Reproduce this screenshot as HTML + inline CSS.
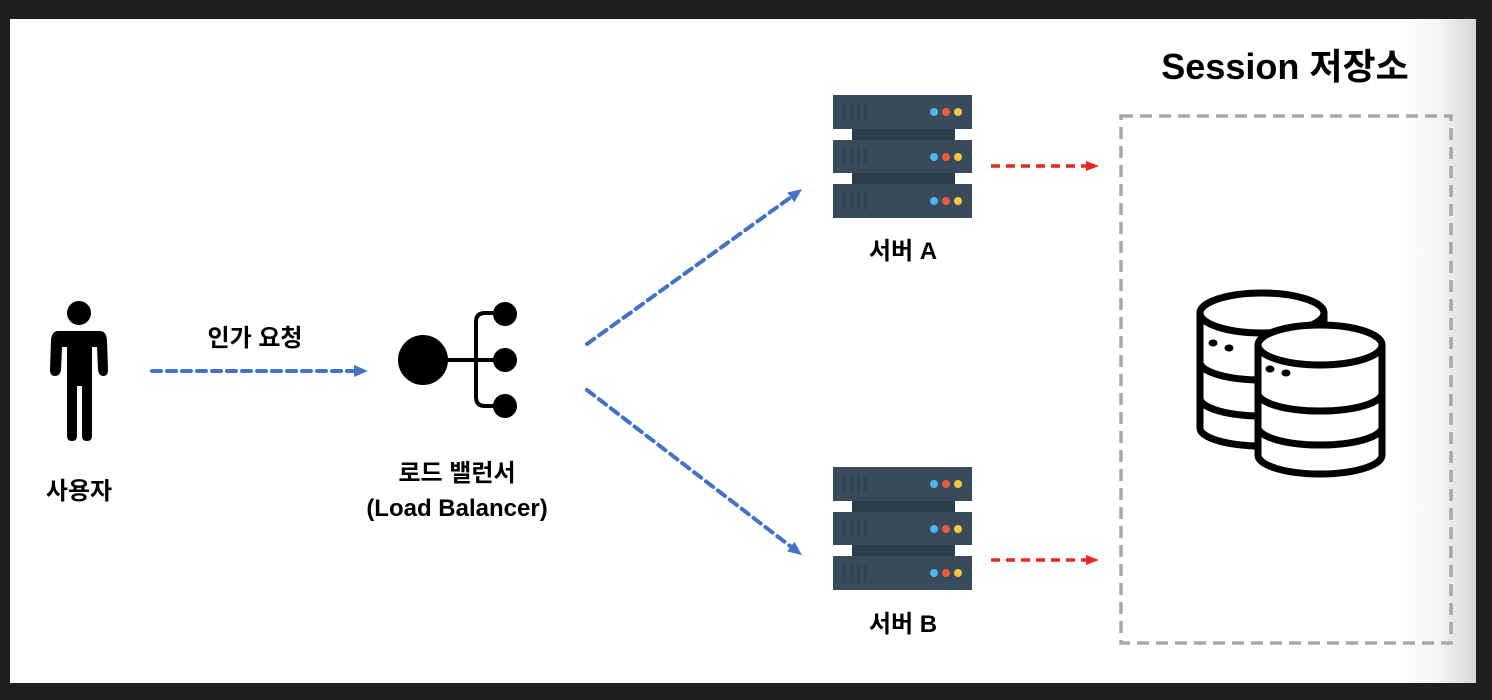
<!DOCTYPE html>
<html><head><meta charset="utf-8"><style>
html,body{margin:0;padding:0;background:#1e1f21;width:1492px;height:700px;overflow:hidden}
.t{font-family:"Liberation Sans","Noto Sans CJK KR",sans-serif;font-weight:bold;fill:#000}
</style></head><body>
<svg width="1492" height="700" xmlns="http://www.w3.org/2000/svg">
<defs>
<linearGradient id="g" x1="0" x2="1"><stop offset="0" stop-color="#fff"/><stop offset="0.5" stop-color="#f4f4f5"/><stop offset="1" stop-color="#d6d7da"/></linearGradient>
<marker id="ab" markerWidth="14" markerHeight="14" refX="4" refY="7" orient="auto" markerUnits="userSpaceOnUse"><path d="M0,1 L14,7 L0,13 z" fill="#4472c4"/></marker>
<marker id="ar" markerWidth="14" markerHeight="14" refX="4" refY="7" orient="auto" markerUnits="userSpaceOnUse"><path d="M0,2 L13,7 L0,12 z" fill="#e8251f"/></marker>
<g id="srv">
<rect x="852" y="0" width="103" height="123" fill="#2c3d4c"/>
<rect x="833" y="0" width="139" height="34" fill="#394a5b"/>
<rect x="833" y="45" width="139" height="33" fill="#394a5b"/>
<rect x="833" y="89" width="139" height="34" fill="#394a5b"/>
<g fill="#324353"><rect x="843" y="8" width="3" height="18"/><rect x="850" y="8" width="3" height="18"/><rect x="857" y="8" width="3" height="18"/><rect x="864" y="8" width="3" height="18"/>
<rect x="843" y="52" width="3" height="18"/><rect x="850" y="52" width="3" height="18"/><rect x="857" y="52" width="3" height="18"/><rect x="864" y="52" width="3" height="18"/>
<rect x="843" y="97" width="3" height="18"/><rect x="850" y="97" width="3" height="18"/><rect x="857" y="97" width="3" height="18"/><rect x="864" y="97" width="3" height="18"/></g>
<g><circle cx="934" cy="17" r="4" fill="#4fb6f0"/><circle cx="946" cy="17" r="4" fill="#ea5a3c"/><circle cx="958" cy="17" r="4" fill="#f5c842"/>
<circle cx="934" cy="62" r="4" fill="#4fb6f0"/><circle cx="946" cy="62" r="4" fill="#ea5a3c"/><circle cx="958" cy="62" r="4" fill="#f5c842"/>
<circle cx="934" cy="106" r="4" fill="#4fb6f0"/><circle cx="946" cy="106" r="4" fill="#ea5a3c"/><circle cx="958" cy="106" r="4" fill="#f5c842"/></g>
</g>
</defs>
<rect x="10" y="19" width="1466" height="664" fill="#fff"/>
<rect x="1400" y="19" width="76" height="664" fill="url(#g)"/>

<!-- person -->
<circle cx="79" cy="313" r="12" fill="#000"/>
<path d="M58,331 H100 Q106,331 107,340 L108,370 Q108,376 103,376 Q99,376 98,370 L97,347 L92,347 V436 Q92,441 87,441 Q82,441 82,436 V386 H77 V436 Q77,441 72,441 Q67,441 67,436 V347 L62,347 L61,370 Q60,376 55,376 Q50,376 50,370 L51,340 Q52,331 58,331 Z" fill="#000"/>
<text class="t" x="79" y="499" font-size="24" text-anchor="middle">사용자</text>

<text class="t" x="255" y="346" font-size="24" text-anchor="middle">인가 요청</text>
<line x1="152" y1="371" x2="358" y2="371" stroke="#4472c4" stroke-width="4" stroke-dasharray="9,6" stroke-linecap="round" marker-end="url(#ab)"/>

<!-- load balancer -->
<circle cx="423" cy="360" r="25" fill="#000"/>
<line x1="440" y1="360" x2="505" y2="360" stroke="#000" stroke-width="4"/>
<path d="M505,313 H485 Q476,313 476,322 V397 Q476,406 485,406 H505" fill="none" stroke="#000" stroke-width="4"/>
<circle cx="505" cy="314" r="12" fill="#000"/>
<circle cx="505" cy="360" r="12" fill="#000"/>
<circle cx="505" cy="406" r="12" fill="#000"/>
<text class="t" x="457" y="481" font-size="24" text-anchor="middle">로드 밸런서</text>
<text class="t" x="457" y="516" font-size="24" text-anchor="middle">(Load Balancer)</text>

<line x1="587" y1="344" x2="794" y2="195" stroke="#4472c4" stroke-width="4" stroke-dasharray="9,6" stroke-linecap="round" marker-end="url(#ab)"/>
<line x1="587" y1="390" x2="794" y2="549" stroke="#4472c4" stroke-width="4" stroke-dasharray="9,6" stroke-linecap="round" marker-end="url(#ab)"/>

<use href="#srv" y="95"/>
<use href="#srv" y="467"/>
<text class="t" x="903" y="259" font-size="24" text-anchor="middle">서버 A</text>
<text class="t" x="903" y="632" font-size="24" text-anchor="middle">서버 B</text>

<line x1="991" y1="166" x2="1090" y2="166" stroke="#e8251f" stroke-width="3.5" stroke-dasharray="9,6" marker-end="url(#ar)"/>
<line x1="991" y1="560" x2="1090" y2="560" stroke="#e8251f" stroke-width="3.5" stroke-dasharray="9,6" marker-end="url(#ar)"/>

<text class="t" x="1285" y="79" font-size="36" text-anchor="middle">Session 저장소</text>
<rect x="1121" y="116" width="330" height="527" fill="none" stroke="#a8a8a8" stroke-width="3.5" stroke-dasharray="12,7"/>

<!-- database -->
<g fill="#fff" stroke="#000" stroke-width="7" stroke-linejoin="round">
<path d="M1200,313 V428 A62,18 0 0 0 1324,428 V313 Z"/>
<path d="M1200,362 A62,18 0 0 0 1324,362" fill="none"/>
<path d="M1200,398 A62,18 0 0 0 1324,398" fill="none"/>
<ellipse cx="1262" cy="313" rx="62" ry="20"/>
<path d="M1258,345 V455 A62,19 0 0 0 1382,455 V345 Z"/>
<path d="M1258,393 A62,18 0 0 0 1382,393" fill="none"/>
<path d="M1258,427 A62,18 0 0 0 1382,427" fill="none"/>
<ellipse cx="1320" cy="345" rx="62" ry="20"/>
</g>
<g fill="#000"><ellipse cx="1213" cy="343" rx="4.5" ry="3.5"/><ellipse cx="1229" cy="348" rx="4.5" ry="3.5"/>
<ellipse cx="1270" cy="369" rx="4.5" ry="3.5"/><ellipse cx="1286" cy="373" rx="4.5" ry="3.5"/></g>
</svg>
</body></html>
